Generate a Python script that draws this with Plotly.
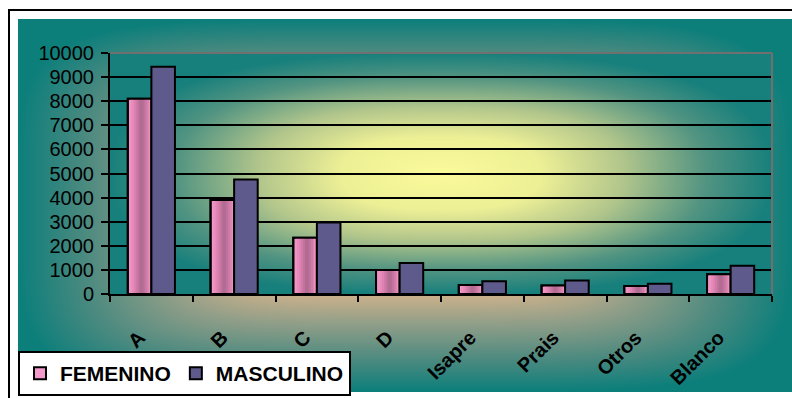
import base64
import struct
import zlib

import numpy as np
import plotly.graph_objects as go

# ---- data ----
categories = ["A", "B", "C", "D", "Isapre", "Prais", "Otros", "Blanco"]
femenino = [8100, 3900, 2330, 1000, 370, 355, 330, 820]
masculino = [9430, 4750, 2970, 1290, 525, 560, 430, 1170]
y_ticks = list(range(0, 10001, 1000))
y_ticktext = [str(v) for v in y_ticks]

# ---- page geometry (px) ----
W, H = 792, 398
PL, PR, PT, PB = 110, 772, 53, 294          # plot area edges
CL, CT, CR, CB = 18, 19, 792, 392           # chart area edges


def box_gradient(x0, y0, x1, y1, stops, p):
    ys, xs = np.mgrid[y0:y1, x0:x1] + 0.5
    cx, cy = (x0 + x1) / 2, (y0 + y1) / 2
    dx = np.abs(xs - cx) / ((x1 - x0) / 2)
    dy = np.abs(ys - cy) / ((y1 - y0) / 2)
    d = np.clip((dx ** p + dy ** p) ** (1 / p), 0, 1)
    pos = [s[0] for s in stops]
    return np.stack([np.interp(d, pos, [s[1][i] for s in stops]) for i in range(3)], -1)


def png_data_uri(arr):
    arr = np.clip(arr, 0, 255).astype(np.uint8)
    h, w, _ = arr.shape
    raw = b"".join(b"\x00" + arr[r].tobytes() for r in range(h))

    def chunk(tag, data):
        c = struct.pack(">I", len(data)) + tag + data
        return c + struct.pack(">I", zlib.crc32(tag + data) & 0xFFFFFFFF)

    png = b"\x89PNG\r\n\x1a\n"
    png += chunk(b"IHDR", struct.pack(">IIBBBBB", w, h, 8, 2, 0, 0, 0))
    png += chunk(b"IDAT", zlib.compress(raw, 9))
    png += chunk(b"IEND", b"")
    return "data:image/png;base64," + base64.b64encode(png).decode()


# background: white page, outer frame, teal chart area, glowing plot area
bg = np.full((H, W, 3), 255.0)
bg[CT:CB, CL:CR] = box_gradient(CL, CT, CR, CB, [
    (0.0, (236, 222, 168)), (0.49, (200, 176, 140)), (0.64, (143, 158, 136)),
    (0.83, (75, 138, 128)), (1.0, (12, 127, 123))], 5)
bg[PT:PB, PL:PR] = box_gradient(PL, PT, PR, PB, [
    (0.0, (251, 251, 155)), (0.3, (238, 240, 150)), (0.55, (178, 198, 140)),
    (0.8, (82, 148, 130)), (1.0, (24, 128, 124))], 2.5)
bg[9:11, 8:W] = 0
bg[9:H, 8:10] = 0
bg_uri = png_data_uri(bg)

pw, ph = PR - PL, PB - PT

fig = go.Figure()

# pink bars with cylinder-like shading: overlapping slices from left to right
BW = 0.285
pink_stops_u = [0.0, 0.25, 0.58, 0.82, 1.0]
pink_stops_c = [(247, 158, 208), (230, 134, 184), (172, 104, 142), (212, 126, 172), (240, 150, 198)]
N = 12
for k in range(N):
    u = (k + 0.5) / N
    col = tuple(int(np.interp(u, pink_stops_u, [c[i] for c in pink_stops_c])) for i in range(3))
    start = -BW + BW * k / N
    fig.add_trace(go.Bar(
        x=categories, y=femenino, name="FEMENINO",
        offset=start, width=-start,
        marker=dict(color="rgb(%d,%d,%d)" % col,
                    line=dict(color="black", width=2 if k == 0 else 0)),
        showlegend=(k == 0), legendgroup="f", hoverinfo="skip" if k else None,
    ))
fig.add_trace(go.Bar(
    x=categories, y=femenino, offset=-BW, width=BW, showlegend=False,
    marker=dict(color="rgba(0,0,0,0)", line=dict(color="black", width=2)),
    hoverinfo="skip",
))
fig.add_trace(go.Bar(
    x=categories, y=masculino, name="MASCULINO", offset=0.0, width=BW,
    marker=dict(color="#5e5a8c", line=dict(color="black", width=2)),
))

font_family = "Liberation Sans, Arial, sans-serif"

fig.update_layout(
    width=W, height=H,
    margin=dict(l=PL, r=W - PR, t=PT, b=H - PB, pad=0, autoexpand=False),
    barmode="overlay",
    paper_bgcolor="white",
    plot_bgcolor="rgba(0,0,0,0)",
    font=dict(family=font_family, color="black"),
    images=[dict(
        source=bg_uri, xref="paper", yref="paper",
        x=-PL / pw, y=1 + PT / ph, sizex=W / pw, sizey=H / ph,
        xanchor="left", yanchor="top", sizing="stretch", layer="below",
    )],
    xaxis=dict(
        type="category", categoryorder="array", categoryarray=categories,
        range=[-0.5, len(categories) - 0.5], automargin=False,
        showline=True, linecolor="black", linewidth=2,
        ticks="outside", tickson="boundaries", ticklen=6, tickwidth=2, tickcolor="black",
        showgrid=False, tickangle=-45, ticklabelstandoff=22, ticklabelshift=-12,
        tickfont=dict(family=font_family, size=20, weight="bold", color="black"),
    ),
    yaxis=dict(
        range=[0, 10000], tickvals=y_ticks, ticktext=y_ticktext, automargin=False,
        showline=True, linecolor="black", linewidth=2,
        ticks="outside", ticklen=7, tickwidth=2, tickcolor="black",
        showgrid=True, gridcolor="black", gridwidth=2, zeroline=False,
        ticklabelstandoff=3,
        tickfont=dict(family=font_family, size=20, color="black"),
    ),
    legend=dict(
        orientation="h", x=(CL - PL) / pw, y=(PB - 351) / ph,
        xanchor="left", yanchor="top",
        bgcolor="white", bordercolor="black", borderwidth=2,
        font=dict(family=font_family, size=21, weight="bold", color="black"),
        traceorder="normal", itemwidth=30, tracegroupgap=0,
    ),
    shapes=[
        dict(type="line", xref="paper", yref="paper", x0=0, x1=1, y0=1, y1=1,
             line=dict(color="#707070", width=2)),
        dict(type="line", xref="paper", yref="paper", x0=1, x1=1, y0=0, y1=1,
             line=dict(color="#707070", width=2)),
    ],
)

fig.write_html("out.html")
